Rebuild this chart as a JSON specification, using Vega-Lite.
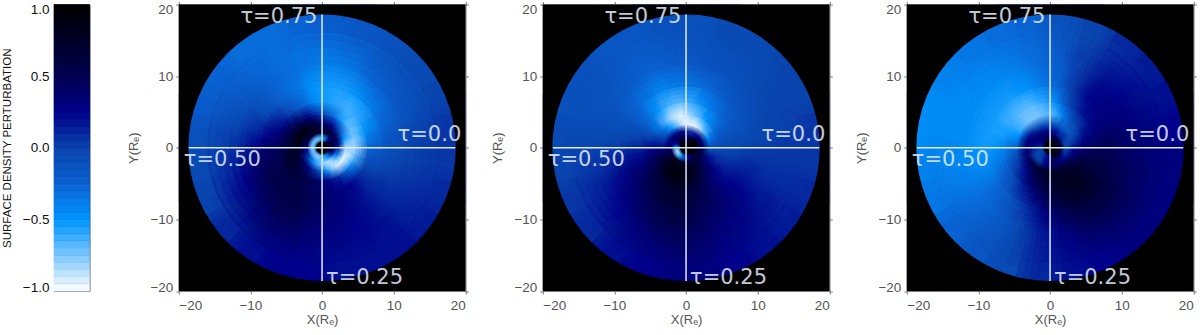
{"$schema":"https://vega.github.io/schema/vega-lite/v6.json","autosize":{"type":"pad"},"padding":{"left":0,"top":0.5,"right":0,"bottom":0},"background":"white","bounds":"flush","spacing":88.8,
"config":{"view":{"stroke":"#808080","fill":"black"},"arc":{"clip":true},"axis":{"grid":false,"labelFont":"Liberation Sans","titleFont":"Liberation Sans","labelFontSize":13.5,"titleFontSize":13,"titleFontWeight":"normal","labelColor":"#555555","titleColor":"#555555","domainColor":"#777777","tickColor":"#777777","tickSize":3}},
"datasets":{
"mask":[{"a":0,"b":360,"r":18.6,"s":30}],
"cb":[{"y":-1,"y2":-0.95,"m":-0.975},{"y":-0.95,"y2":-0.9,"m":-0.925},{"y":-0.9,"y2":-0.85,"m":-0.875},{"y":-0.85,"y2":-0.8,"m":-0.825},{"y":-0.8,"y2":-0.75,"m":-0.775},{"y":-0.75,"y2":-0.7,"m":-0.725},{"y":-0.7,"y2":-0.65,"m":-0.675},{"y":-0.65,"y2":-0.6,"m":-0.625},{"y":-0.6,"y2":-0.55,"m":-0.575},{"y":-0.55,"y2":-0.5,"m":-0.525},{"y":-0.5,"y2":-0.45,"m":-0.475},{"y":-0.45,"y2":-0.4,"m":-0.425},{"y":-0.4,"y2":-0.35,"m":-0.375},{"y":-0.35,"y2":-0.3,"m":-0.325},{"y":-0.3,"y2":-0.25,"m":-0.275},{"y":-0.25,"y2":-0.2,"m":-0.225},{"y":-0.2,"y2":-0.15,"m":-0.175},{"y":-0.15,"y2":-0.1,"m":-0.125},{"y":-0.1,"y2":-0.05,"m":-0.075},{"y":-0.05,"y2":0,"m":-0.025},{"y":0,"y2":0.05,"m":0.025},{"y":0.05,"y2":0.1,"m":0.075},{"y":0.1,"y2":0.15,"m":0.125},{"y":0.15,"y2":0.2,"m":0.175},{"y":0.2,"y2":0.25,"m":0.225},{"y":0.25,"y2":0.3,"m":0.275},{"y":0.3,"y2":0.35,"m":0.325},{"y":0.35,"y2":0.4,"m":0.375},{"y":0.4,"y2":0.45,"m":0.425},{"y":0.45,"y2":0.5,"m":0.475},{"y":0.5,"y2":0.55,"m":0.525},{"y":0.55,"y2":0.6,"m":0.575},{"y":0.6,"y2":0.65,"m":0.625},{"y":0.65,"y2":0.7,"m":0.675},{"y":0.7,"y2":0.75,"m":0.725},{"y":0.75,"y2":0.8,"m":0.775},{"y":0.8,"y2":0.85,"m":0.825},{"y":0.85,"y2":0.9,"m":0.875},{"y":0.9,"y2":0.95,"m":0.925},{"y":0.95,"y2":1,"m":0.975}],
"h":[{"x":-18.6,"x2":18.6,"y":0}],
"v":[{"x":0,"y":-18.6,"y2":18.6}],
"ann":[{"x":-11.4,"y":17.4,"t":"τ=0.75"},{"x":10.55,"y":0.93,"t":"τ=0.0"},{"x":-19.3,"y":-2.55,"t":"τ=0.50"},{"x":0.55,"y":-19.05,"t":"τ=0.25"}],
"p1":[
{"a":0,"b":15,"r":1,"s":1.8,"v":-0.5},{"a":15,"b":30,"r":1,"s":1.8,"v":-0.2},{"a":30,"b":45,"r":1,"s":1.8,"v":0.3},{"a":45,"b":60,"r":1,"s":1.8,"v":0.5},{"a":60,"b":75,"r":1,"s":1.8,"v":0.6},{"a":75,"b":90,"r":1,"s":1.8,"v":0.6},{"a":90,"b":105,"r":1,"s":1.8,"v":0.6},{"a":105,"b":120,"r":1,"s":1.8,"v":0.4},{"a":120,"b":135,"r":1,"s":1.8,"v":0.1},{"a":135,"b":150,"r":1,"s":1.8,"v":-0.3},{"a":150,"b":165,"r":1,"s":1.8,"v":-0.5},{"a":165,"b":180,"r":1,"s":1.8,"v":-0.6},{"a":180,"b":195,"r":1,"s":1.8,"v":-0.7},{"a":195,"b":210,"r":1,"s":1.8,"v":-0.75},{"a":210,"b":225,"r":1,"s":1.8,"v":-0.75},{"a":225,"b":240,"r":1,"s":1.8,"v":-0.7},{"a":240,"b":255,"r":1,"s":1.8,"v":-0.7},{"a":255,"b":270,"r":1,"s":1.8,"v":-0.7},{"a":270,"b":285,"r":1,"s":1.8,"v":-0.7},{"a":285,"b":300,"r":1,"s":1.8,"v":-0.7},{"a":300,"b":315,"r":1,"s":1.8,"v":-0.7},{"a":315,"b":330,"r":1,"s":1.8,"v":-0.7},{"a":330,"b":345,"r":1,"s":1.8,"v":-0.7},{"a":345,"b":360,"r":1,"s":1.8,"v":-0.6},
{"a":0,"b":15,"r":1.8,"s":2.8,"v":0.7},{"a":15,"b":30,"r":1.8,"s":2.8,"v":0.7},{"a":30,"b":45,"r":1.8,"s":2.8,"v":0.6},{"a":45,"b":60,"r":1.8,"s":2.8,"v":0.5},{"a":60,"b":75,"r":1.8,"s":2.8,"v":0.4},{"a":75,"b":90,"r":1.8,"s":2.8,"v":0.2},{"a":90,"b":105,"r":1.8,"s":2.8,"v":0},{"a":105,"b":120,"r":1.8,"s":2.8,"v":-0.3},{"a":120,"b":135,"r":1.8,"s":2.8,"v":-0.6},{"a":135,"b":150,"r":1.8,"s":2.8,"v":-0.8},{"a":150,"b":165,"r":1.8,"s":2.8,"v":-0.85},{"a":165,"b":180,"r":1.8,"s":2.8,"v":-0.8},{"a":180,"b":195,"r":1.8,"s":2.8,"v":-0.7},{"a":195,"b":210,"r":1.8,"s":2.8,"v":-0.6},{"a":210,"b":225,"r":1.8,"s":2.8,"v":-0.4},{"a":225,"b":240,"r":1.8,"s":2.8,"v":-0.1},{"a":240,"b":255,"r":1.8,"s":2.8,"v":0.1},{"a":255,"b":270,"r":1.8,"s":2.8,"v":0.3},{"a":270,"b":285,"r":1.8,"s":2.8,"v":0.4},{"a":285,"b":300,"r":1.8,"s":2.8,"v":0.5},{"a":300,"b":315,"r":1.8,"s":2.8,"v":0.6},{"a":315,"b":330,"r":1.8,"s":2.8,"v":0.65},{"a":330,"b":345,"r":1.8,"s":2.8,"v":0.7},{"a":345,"b":360,"r":1.8,"s":2.8,"v":0.7},
{"a":0,"b":15,"r":2.8,"s":4,"v":0.4},{"a":15,"b":30,"r":2.8,"s":4,"v":0.3},{"a":30,"b":45,"r":2.8,"s":4,"v":0.1},{"a":45,"b":60,"r":2.8,"s":4,"v":-0.2},{"a":60,"b":75,"r":2.8,"s":4,"v":-0.5},{"a":75,"b":90,"r":2.8,"s":4,"v":-0.75},{"a":90,"b":105,"r":2.8,"s":4,"v":-0.85},{"a":105,"b":120,"r":2.8,"s":4,"v":-0.95},{"a":120,"b":135,"r":2.8,"s":4,"v":-0.95},{"a":135,"b":150,"r":2.8,"s":4,"v":-0.9},{"a":150,"b":165,"r":2.8,"s":4,"v":-0.7},{"a":165,"b":180,"r":2.8,"s":4,"v":-0.4},{"a":180,"b":195,"r":2.8,"s":4,"v":-0.1},{"a":195,"b":210,"r":2.8,"s":4,"v":0.1},{"a":210,"b":225,"r":2.8,"s":4,"v":0.3},{"a":225,"b":240,"r":2.8,"s":4,"v":0.45},{"a":240,"b":255,"r":2.8,"s":4,"v":0.6},{"a":255,"b":270,"r":2.8,"s":4,"v":0.75},{"a":270,"b":285,"r":2.8,"s":4,"v":0.85},{"a":285,"b":300,"r":2.8,"s":4,"v":0.9},{"a":300,"b":315,"r":2.8,"s":4,"v":0.9},{"a":315,"b":330,"r":2.8,"s":4,"v":0.85},{"a":330,"b":345,"r":2.8,"s":4,"v":0.75},{"a":345,"b":360,"r":2.8,"s":4,"v":0.55},
{"a":0,"b":15,"r":4,"s":5.5,"v":-0.1},{"a":15,"b":30,"r":4,"s":5.5,"v":-0.3},{"a":30,"b":45,"r":4,"s":5.5,"v":-0.55},{"a":45,"b":60,"r":4,"s":5.5,"v":-0.7},{"a":60,"b":75,"r":4,"s":5.5,"v":-0.75},{"a":75,"b":90,"r":4,"s":5.5,"v":-0.8},{"a":90,"b":105,"r":4,"s":5.5,"v":-0.8},{"a":105,"b":120,"r":4,"s":5.5,"v":-0.65},{"a":120,"b":135,"r":4,"s":5.5,"v":-0.4},{"a":135,"b":150,"r":4,"s":5.5,"v":-0.1},{"a":150,"b":165,"r":4,"s":5.5,"v":0.15},{"a":165,"b":180,"r":4,"s":5.5,"v":0.3},{"a":180,"b":195,"r":4,"s":5.5,"v":0.4},{"a":195,"b":210,"r":4,"s":5.5,"v":0.5},{"a":210,"b":225,"r":4,"s":5.5,"v":0.6},{"a":225,"b":240,"r":4,"s":5.5,"v":0.7},{"a":240,"b":255,"r":4,"s":5.5,"v":0.75},{"a":255,"b":270,"r":4,"s":5.5,"v":0.7},{"a":270,"b":285,"r":4,"s":5.5,"v":0.65},{"a":285,"b":300,"r":4,"s":5.5,"v":0.6},{"a":300,"b":315,"r":4,"s":5.5,"v":0.55},{"a":315,"b":330,"r":4,"s":5.5,"v":0.45},{"a":330,"b":345,"r":4,"s":5.5,"v":0.3},{"a":345,"b":360,"r":4,"s":5.5,"v":0.1},
{"a":0,"b":15,"r":5.5,"s":7.5,"v":-0.55},{"a":15,"b":30,"r":5.5,"s":7.5,"v":-0.6},{"a":30,"b":45,"r":5.5,"s":7.5,"v":-0.65},{"a":45,"b":60,"r":5.5,"s":7.5,"v":-0.6},{"a":60,"b":75,"r":5.5,"s":7.5,"v":-0.5},{"a":75,"b":90,"r":5.5,"s":7.5,"v":-0.35},{"a":90,"b":105,"r":5.5,"s":7.5,"v":-0.2},{"a":105,"b":120,"r":5.5,"s":7.5,"v":-0.05},{"a":120,"b":135,"r":5.5,"s":7.5,"v":0.1},{"a":135,"b":150,"r":5.5,"s":7.5,"v":0.25},{"a":150,"b":165,"r":5.5,"s":7.5,"v":0.3},{"a":165,"b":180,"r":5.5,"s":7.5,"v":0.35},{"a":180,"b":195,"r":5.5,"s":7.5,"v":0.45},{"a":195,"b":210,"r":5.5,"s":7.5,"v":0.5},{"a":210,"b":225,"r":5.5,"s":7.5,"v":0.55},{"a":225,"b":240,"r":5.5,"s":7.5,"v":0.55},{"a":240,"b":255,"r":5.5,"s":7.5,"v":0.5},{"a":255,"b":270,"r":5.5,"s":7.5,"v":0.45},{"a":270,"b":285,"r":5.5,"s":7.5,"v":0.4},{"a":285,"b":300,"r":5.5,"s":7.5,"v":0.3},{"a":300,"b":315,"r":5.5,"s":7.5,"v":0.15},{"a":315,"b":330,"r":5.5,"s":7.5,"v":-0.05},{"a":330,"b":345,"r":5.5,"s":7.5,"v":-0.25},{"a":345,"b":360,"r":5.5,"s":7.5,"v":-0.45},
{"a":0,"b":15,"r":7.5,"s":10,"v":-0.55},{"a":15,"b":30,"r":7.5,"s":10,"v":-0.55},{"a":30,"b":45,"r":7.5,"s":10,"v":-0.5},{"a":45,"b":60,"r":7.5,"s":10,"v":-0.4},{"a":60,"b":75,"r":7.5,"s":10,"v":-0.3},{"a":75,"b":90,"r":7.5,"s":10,"v":-0.2},{"a":90,"b":105,"r":7.5,"s":10,"v":-0.1},{"a":105,"b":120,"r":7.5,"s":10,"v":0},{"a":120,"b":135,"r":7.5,"s":10,"v":0.1},{"a":135,"b":150,"r":7.5,"s":10,"v":0.2},{"a":150,"b":165,"r":7.5,"s":10,"v":0.3},{"a":165,"b":180,"r":7.5,"s":10,"v":0.35},{"a":180,"b":195,"r":7.5,"s":10,"v":0.45},{"a":195,"b":210,"r":7.5,"s":10,"v":0.55},{"a":210,"b":225,"r":7.5,"s":10,"v":0.55},{"a":225,"b":240,"r":7.5,"s":10,"v":0.55},{"a":240,"b":255,"r":7.5,"s":10,"v":0.5},{"a":255,"b":270,"r":7.5,"s":10,"v":0.4},{"a":270,"b":285,"r":7.5,"s":10,"v":0.25},{"a":285,"b":300,"r":7.5,"s":10,"v":0.1},{"a":300,"b":315,"r":7.5,"s":10,"v":-0.1},{"a":315,"b":330,"r":7.5,"s":10,"v":-0.25},{"a":330,"b":345,"r":7.5,"s":10,"v":-0.35},{"a":345,"b":360,"r":7.5,"s":10,"v":-0.5},
{"a":0,"b":15,"r":10,"s":14,"v":-0.4},{"a":15,"b":30,"r":10,"s":14,"v":-0.35},{"a":30,"b":45,"r":10,"s":14,"v":-0.25},{"a":45,"b":60,"r":10,"s":14,"v":-0.2},{"a":60,"b":75,"r":10,"s":14,"v":-0.15},{"a":75,"b":90,"r":10,"s":14,"v":-0.05},{"a":90,"b":105,"r":10,"s":14,"v":0},{"a":105,"b":120,"r":10,"s":14,"v":0.05},{"a":120,"b":135,"r":10,"s":14,"v":0.1},{"a":135,"b":150,"r":10,"s":14,"v":0.2},{"a":150,"b":165,"r":10,"s":14,"v":0.25},{"a":165,"b":180,"r":10,"s":14,"v":0.3},{"a":180,"b":195,"r":10,"s":14,"v":0.35},{"a":195,"b":210,"r":10,"s":14,"v":0.45},{"a":210,"b":225,"r":10,"s":14,"v":0.45},{"a":225,"b":240,"r":10,"s":14,"v":0.35},{"a":240,"b":255,"r":10,"s":14,"v":0.25},{"a":255,"b":270,"r":10,"s":14,"v":0.15},{"a":270,"b":285,"r":10,"s":14,"v":0.05},{"a":285,"b":300,"r":10,"s":14,"v":-0.05},{"a":300,"b":315,"r":10,"s":14,"v":-0.15},{"a":315,"b":330,"r":10,"s":14,"v":-0.25},{"a":330,"b":345,"r":10,"s":14,"v":-0.3},{"a":345,"b":360,"r":10,"s":14,"v":-0.35},
{"a":0,"b":15,"r":14,"s":18.6,"v":-0.2},{"a":15,"b":30,"r":14,"s":18.6,"v":-0.15},{"a":30,"b":45,"r":14,"s":18.6,"v":-0.1},{"a":45,"b":60,"r":14,"s":18.6,"v":-0.05},{"a":60,"b":75,"r":14,"s":18.6,"v":0},{"a":75,"b":90,"r":14,"s":18.6,"v":0.05},{"a":90,"b":105,"r":14,"s":18.6,"v":0.05},{"a":105,"b":120,"r":14,"s":18.6,"v":0.1},{"a":120,"b":135,"r":14,"s":18.6,"v":0.15},{"a":135,"b":150,"r":14,"s":18.6,"v":0.2},{"a":150,"b":165,"r":14,"s":18.6,"v":0.2},{"a":165,"b":180,"r":14,"s":18.6,"v":0.2},{"a":180,"b":195,"r":14,"s":18.6,"v":0.25},{"a":195,"b":210,"r":14,"s":18.6,"v":0.25},{"a":210,"b":225,"r":14,"s":18.6,"v":0.2},{"a":225,"b":240,"r":14,"s":18.6,"v":0.1},{"a":240,"b":255,"r":14,"s":18.6,"v":0},{"a":255,"b":270,"r":14,"s":18.6,"v":-0.05},{"a":270,"b":285,"r":14,"s":18.6,"v":-0.1},{"a":285,"b":300,"r":14,"s":18.6,"v":-0.2},{"a":300,"b":315,"r":14,"s":18.6,"v":-0.25},{"a":315,"b":330,"r":14,"s":18.6,"v":-0.3},{"a":330,"b":345,"r":14,"s":18.6,"v":-0.3},{"a":345,"b":360,"r":14,"s":18.6,"v":-0.25}],
"p2":[
{"a":0,"b":15,"r":1,"s":1.8,"v":0.4},{"a":15,"b":30,"r":1,"s":1.8,"v":0.6},{"a":30,"b":45,"r":1,"s":1.8,"v":0.8},{"a":45,"b":60,"r":1,"s":1.8,"v":0.9},{"a":60,"b":75,"r":1,"s":1.8,"v":0.9},{"a":75,"b":90,"r":1,"s":1.8,"v":0.9},{"a":90,"b":105,"r":1,"s":1.8,"v":0.8},{"a":105,"b":120,"r":1,"s":1.8,"v":0.8},{"a":120,"b":135,"r":1,"s":1.8,"v":0.7},{"a":135,"b":150,"r":1,"s":1.8,"v":0.6},{"a":150,"b":165,"r":1,"s":1.8,"v":0.4},{"a":165,"b":180,"r":1,"s":1.8,"v":0.2},{"a":180,"b":195,"r":1,"s":1.8,"v":0},{"a":195,"b":210,"r":1,"s":1.8,"v":-0.3},{"a":210,"b":225,"r":1,"s":1.8,"v":-0.6},{"a":225,"b":240,"r":1,"s":1.8,"v":-0.75},{"a":240,"b":255,"r":1,"s":1.8,"v":-0.8},{"a":255,"b":270,"r":1,"s":1.8,"v":-0.7},{"a":270,"b":285,"r":1,"s":1.8,"v":-0.3},{"a":285,"b":300,"r":1,"s":1.8,"v":0.2},{"a":300,"b":315,"r":1,"s":1.8,"v":0.5},{"a":315,"b":330,"r":1,"s":1.8,"v":0.6},{"a":330,"b":345,"r":1,"s":1.8,"v":0.6},{"a":345,"b":360,"r":1,"s":1.8,"v":0.5},
{"a":0,"b":15,"r":1.8,"s":2.8,"v":0.1},{"a":15,"b":30,"r":1.8,"s":2.8,"v":0.1},{"a":30,"b":45,"r":1.8,"s":2.8,"v":0.2},{"a":45,"b":60,"r":1.8,"s":2.8,"v":0.35},{"a":60,"b":75,"r":1.8,"s":2.8,"v":0.4},{"a":75,"b":90,"r":1.8,"s":2.8,"v":0.4},{"a":90,"b":105,"r":1.8,"s":2.8,"v":0.5},{"a":105,"b":120,"r":1.8,"s":2.8,"v":0.5},{"a":120,"b":135,"r":1.8,"s":2.8,"v":0.55},{"a":135,"b":150,"r":1.8,"s":2.8,"v":0.65},{"a":150,"b":165,"r":1.8,"s":2.8,"v":0.7},{"a":165,"b":180,"r":1.8,"s":2.8,"v":0.7},{"a":180,"b":195,"r":1.8,"s":2.8,"v":0.75},{"a":195,"b":210,"r":1.8,"s":2.8,"v":0.8},{"a":210,"b":225,"r":1.8,"s":2.8,"v":0.8},{"a":225,"b":240,"r":1.8,"s":2.8,"v":0.75},{"a":240,"b":255,"r":1.8,"s":2.8,"v":0.6},{"a":255,"b":270,"r":1.8,"s":2.8,"v":0.45},{"a":270,"b":285,"r":1.8,"s":2.8,"v":0.3},{"a":285,"b":300,"r":1.8,"s":2.8,"v":0.3},{"a":300,"b":315,"r":1.8,"s":2.8,"v":0.35},{"a":315,"b":330,"r":1.8,"s":2.8,"v":0.35},{"a":330,"b":345,"r":1.8,"s":2.8,"v":0.3},{"a":345,"b":360,"r":1.8,"s":2.8,"v":0.2},
{"a":0,"b":15,"r":2.8,"s":4,"v":-0.95},{"a":15,"b":30,"r":2.8,"s":4,"v":-0.95},{"a":30,"b":45,"r":2.8,"s":4,"v":-0.85},{"a":45,"b":60,"r":2.8,"s":4,"v":-0.65},{"a":60,"b":75,"r":2.8,"s":4,"v":-0.4},{"a":75,"b":90,"r":2.8,"s":4,"v":-0.2},{"a":90,"b":105,"r":2.8,"s":4,"v":0},{"a":105,"b":120,"r":2.8,"s":4,"v":0.2},{"a":120,"b":135,"r":2.8,"s":4,"v":0.4},{"a":135,"b":150,"r":2.8,"s":4,"v":0.55},{"a":150,"b":165,"r":2.8,"s":4,"v":0.75},{"a":165,"b":180,"r":2.8,"s":4,"v":0.85},{"a":180,"b":195,"r":2.8,"s":4,"v":0.9},{"a":195,"b":210,"r":2.8,"s":4,"v":0.9},{"a":210,"b":225,"r":2.8,"s":4,"v":0.9},{"a":225,"b":240,"r":2.8,"s":4,"v":0.8},{"a":240,"b":255,"r":2.8,"s":4,"v":0.6},{"a":255,"b":270,"r":2.8,"s":4,"v":0.4},{"a":270,"b":285,"r":2.8,"s":4,"v":0.15},{"a":285,"b":300,"r":2.8,"s":4,"v":0},{"a":300,"b":315,"r":2.8,"s":4,"v":-0.2},{"a":315,"b":330,"r":2.8,"s":4,"v":-0.45},{"a":330,"b":345,"r":2.8,"s":4,"v":-0.7},{"a":345,"b":360,"r":2.8,"s":4,"v":-0.9},
{"a":0,"b":15,"r":4,"s":5.5,"v":-0.8},{"a":15,"b":30,"r":4,"s":5.5,"v":-0.7},{"a":30,"b":45,"r":4,"s":5.5,"v":-0.5},{"a":45,"b":60,"r":4,"s":5.5,"v":-0.35},{"a":60,"b":75,"r":4,"s":5.5,"v":-0.2},{"a":75,"b":90,"r":4,"s":5.5,"v":-0.1},{"a":90,"b":105,"r":4,"s":5.5,"v":0},{"a":105,"b":120,"r":4,"s":5.5,"v":0.1},{"a":120,"b":135,"r":4,"s":5.5,"v":0.3},{"a":135,"b":150,"r":4,"s":5.5,"v":0.45},{"a":150,"b":165,"r":4,"s":5.5,"v":0.6},{"a":165,"b":180,"r":4,"s":5.5,"v":0.75},{"a":180,"b":195,"r":4,"s":5.5,"v":0.85},{"a":195,"b":210,"r":4,"s":5.5,"v":0.85},{"a":210,"b":225,"r":4,"s":5.5,"v":0.8},{"a":225,"b":240,"r":4,"s":5.5,"v":0.65},{"a":240,"b":255,"r":4,"s":5.5,"v":0.5},{"a":255,"b":270,"r":4,"s":5.5,"v":0.35},{"a":270,"b":285,"r":4,"s":5.5,"v":0.15},{"a":285,"b":300,"r":4,"s":5.5,"v":-0.1},{"a":300,"b":315,"r":4,"s":5.5,"v":-0.4},{"a":315,"b":330,"r":4,"s":5.5,"v":-0.7},{"a":330,"b":345,"r":4,"s":5.5,"v":-0.9},{"a":345,"b":360,"r":4,"s":5.5,"v":-0.95},
{"a":0,"b":15,"r":5.5,"s":7.5,"v":-0.6},{"a":15,"b":30,"r":5.5,"s":7.5,"v":-0.45},{"a":30,"b":45,"r":5.5,"s":7.5,"v":-0.35},{"a":45,"b":60,"r":5.5,"s":7.5,"v":-0.25},{"a":60,"b":75,"r":5.5,"s":7.5,"v":-0.15},{"a":75,"b":90,"r":5.5,"s":7.5,"v":-0.05},{"a":90,"b":105,"r":5.5,"s":7.5,"v":0},{"a":105,"b":120,"r":5.5,"s":7.5,"v":0.1},{"a":120,"b":135,"r":5.5,"s":7.5,"v":0.2},{"a":135,"b":150,"r":5.5,"s":7.5,"v":0.35},{"a":150,"b":165,"r":5.5,"s":7.5,"v":0.5},{"a":165,"b":180,"r":5.5,"s":7.5,"v":0.6},{"a":180,"b":195,"r":5.5,"s":7.5,"v":0.7},{"a":195,"b":210,"r":5.5,"s":7.5,"v":0.7},{"a":210,"b":225,"r":5.5,"s":7.5,"v":0.6},{"a":225,"b":240,"r":5.5,"s":7.5,"v":0.5},{"a":240,"b":255,"r":5.5,"s":7.5,"v":0.35},{"a":255,"b":270,"r":5.5,"s":7.5,"v":0.2},{"a":270,"b":285,"r":5.5,"s":7.5,"v":0.05},{"a":285,"b":300,"r":5.5,"s":7.5,"v":-0.1},{"a":300,"b":315,"r":5.5,"s":7.5,"v":-0.3},{"a":315,"b":330,"r":5.5,"s":7.5,"v":-0.5},{"a":330,"b":345,"r":5.5,"s":7.5,"v":-0.65},{"a":345,"b":360,"r":5.5,"s":7.5,"v":-0.7},
{"a":0,"b":15,"r":7.5,"s":10,"v":-0.35},{"a":15,"b":30,"r":7.5,"s":10,"v":-0.3},{"a":30,"b":45,"r":7.5,"s":10,"v":-0.2},{"a":45,"b":60,"r":7.5,"s":10,"v":-0.15},{"a":60,"b":75,"r":7.5,"s":10,"v":-0.1},{"a":75,"b":90,"r":7.5,"s":10,"v":-0.05},{"a":90,"b":105,"r":7.5,"s":10,"v":0.05},{"a":105,"b":120,"r":7.5,"s":10,"v":0.15},{"a":120,"b":135,"r":7.5,"s":10,"v":0.25},{"a":135,"b":150,"r":7.5,"s":10,"v":0.35},{"a":150,"b":165,"r":7.5,"s":10,"v":0.45},{"a":165,"b":180,"r":7.5,"s":10,"v":0.55},{"a":180,"b":195,"r":7.5,"s":10,"v":0.65},{"a":195,"b":210,"r":7.5,"s":10,"v":0.6},{"a":210,"b":225,"r":7.5,"s":10,"v":0.5},{"a":225,"b":240,"r":7.5,"s":10,"v":0.4},{"a":240,"b":255,"r":7.5,"s":10,"v":0.3},{"a":255,"b":270,"r":7.5,"s":10,"v":0.15},{"a":270,"b":285,"r":7.5,"s":10,"v":0},{"a":285,"b":300,"r":7.5,"s":10,"v":-0.1},{"a":300,"b":315,"r":7.5,"s":10,"v":-0.25},{"a":315,"b":330,"r":7.5,"s":10,"v":-0.35},{"a":330,"b":345,"r":7.5,"s":10,"v":-0.45},{"a":345,"b":360,"r":7.5,"s":10,"v":-0.4},
{"a":0,"b":15,"r":10,"s":14,"v":-0.15},{"a":15,"b":30,"r":10,"s":14,"v":-0.12},{"a":30,"b":45,"r":10,"s":14,"v":-0.1},{"a":45,"b":60,"r":10,"s":14,"v":-0.05},{"a":60,"b":75,"r":10,"s":14,"v":0},{"a":75,"b":90,"r":10,"s":14,"v":0},{"a":90,"b":105,"r":10,"s":14,"v":0.05},{"a":105,"b":120,"r":10,"s":14,"v":0.1},{"a":120,"b":135,"r":10,"s":14,"v":0.2},{"a":135,"b":150,"r":10,"s":14,"v":0.3},{"a":150,"b":165,"r":10,"s":14,"v":0.35},{"a":165,"b":180,"r":10,"s":14,"v":0.45},{"a":180,"b":195,"r":10,"s":14,"v":0.5},{"a":195,"b":210,"r":10,"s":14,"v":0.45},{"a":210,"b":225,"r":10,"s":14,"v":0.35},{"a":225,"b":240,"r":10,"s":14,"v":0.25},{"a":240,"b":255,"r":10,"s":14,"v":0.15},{"a":255,"b":270,"r":10,"s":14,"v":0.05},{"a":270,"b":285,"r":10,"s":14,"v":-0.05},{"a":285,"b":300,"r":10,"s":14,"v":-0.1},{"a":300,"b":315,"r":10,"s":14,"v":-0.15},{"a":315,"b":330,"r":10,"s":14,"v":-0.2},{"a":330,"b":345,"r":10,"s":14,"v":-0.25},{"a":345,"b":360,"r":10,"s":14,"v":-0.2},
{"a":0,"b":15,"r":14,"s":18.6,"v":-0.1},{"a":15,"b":30,"r":14,"s":18.6,"v":-0.05},{"a":30,"b":45,"r":14,"s":18.6,"v":-0.05},{"a":45,"b":60,"r":14,"s":18.6,"v":0},{"a":60,"b":75,"r":14,"s":18.6,"v":0},{"a":75,"b":90,"r":14,"s":18.6,"v":0.05},{"a":90,"b":105,"r":14,"s":18.6,"v":0.05},{"a":105,"b":120,"r":14,"s":18.6,"v":0.1},{"a":120,"b":135,"r":14,"s":18.6,"v":0.15},{"a":135,"b":150,"r":14,"s":18.6,"v":0.2},{"a":150,"b":165,"r":14,"s":18.6,"v":0.25},{"a":165,"b":180,"r":14,"s":18.6,"v":0.3},{"a":180,"b":195,"r":14,"s":18.6,"v":0.3},{"a":195,"b":210,"r":14,"s":18.6,"v":0.25},{"a":210,"b":225,"r":14,"s":18.6,"v":0.2},{"a":225,"b":240,"r":14,"s":18.6,"v":0.1},{"a":240,"b":255,"r":14,"s":18.6,"v":0.05},{"a":255,"b":270,"r":14,"s":18.6,"v":0},{"a":270,"b":285,"r":14,"s":18.6,"v":-0.05},{"a":285,"b":300,"r":14,"s":18.6,"v":-0.1},{"a":300,"b":315,"r":14,"s":18.6,"v":-0.1},{"a":315,"b":330,"r":14,"s":18.6,"v":-0.15},{"a":330,"b":345,"r":14,"s":18.6,"v":-0.15},{"a":345,"b":360,"r":14,"s":18.6,"v":-0.1}],
"p3":[
{"a":0,"b":15,"r":1,"s":1.8,"v":0.6},{"a":15,"b":30,"r":1,"s":1.8,"v":0.6},{"a":30,"b":45,"r":1,"s":1.8,"v":0.6},{"a":45,"b":60,"r":1,"s":1.8,"v":0.6},{"a":60,"b":75,"r":1,"s":1.8,"v":0.6},{"a":75,"b":90,"r":1,"s":1.8,"v":0.7},{"a":90,"b":105,"r":1,"s":1.8,"v":0.7},{"a":105,"b":120,"r":1,"s":1.8,"v":0.7},{"a":120,"b":135,"r":1,"s":1.8,"v":0.7},{"a":135,"b":150,"r":1,"s":1.8,"v":0.7},{"a":150,"b":165,"r":1,"s":1.8,"v":0.6},{"a":165,"b":180,"r":1,"s":1.8,"v":0.5},{"a":180,"b":195,"r":1,"s":1.8,"v":0.3},{"a":195,"b":210,"r":1,"s":1.8,"v":0.2},{"a":210,"b":225,"r":1,"s":1.8,"v":0.1},{"a":225,"b":240,"r":1,"s":1.8,"v":0},{"a":240,"b":255,"r":1,"s":1.8,"v":0},{"a":255,"b":270,"r":1,"s":1.8,"v":0},{"a":270,"b":285,"r":1,"s":1.8,"v":0.1},{"a":285,"b":300,"r":1,"s":1.8,"v":0.2},{"a":300,"b":315,"r":1,"s":1.8,"v":0.3},{"a":315,"b":330,"r":1,"s":1.8,"v":0.4},{"a":330,"b":345,"r":1,"s":1.8,"v":0.5},{"a":345,"b":360,"r":1,"s":1.8,"v":0.6},
{"a":0,"b":15,"r":1.8,"s":2.8,"v":0.2},{"a":15,"b":30,"r":1.8,"s":2.8,"v":0.2},{"a":30,"b":45,"r":1.8,"s":2.8,"v":0.1},{"a":45,"b":60,"r":1.8,"s":2.8,"v":0.1},{"a":60,"b":75,"r":1.8,"s":2.8,"v":0},{"a":75,"b":90,"r":1.8,"s":2.8,"v":0},{"a":90,"b":105,"r":1.8,"s":2.8,"v":0},{"a":105,"b":120,"r":1.8,"s":2.8,"v":0.1},{"a":120,"b":135,"r":1.8,"s":2.8,"v":0.2},{"a":135,"b":150,"r":1.8,"s":2.8,"v":0.3},{"a":150,"b":165,"r":1.8,"s":2.8,"v":0.4},{"a":165,"b":180,"r":1.8,"s":2.8,"v":0.4},{"a":180,"b":195,"r":1.8,"s":2.8,"v":0.3},{"a":195,"b":210,"r":1.8,"s":2.8,"v":0.2},{"a":210,"b":225,"r":1.8,"s":2.8,"v":0},{"a":225,"b":240,"r":1.8,"s":2.8,"v":0},{"a":240,"b":255,"r":1.8,"s":2.8,"v":0},{"a":255,"b":270,"r":1.8,"s":2.8,"v":0.1},{"a":270,"b":285,"r":1.8,"s":2.8,"v":0.2},{"a":285,"b":300,"r":1.8,"s":2.8,"v":0.3},{"a":300,"b":315,"r":1.8,"s":2.8,"v":0.35},{"a":315,"b":330,"r":1.8,"s":2.8,"v":0.35},{"a":330,"b":345,"r":1.8,"s":2.8,"v":0.3},{"a":345,"b":360,"r":1.8,"s":2.8,"v":0.25},
{"a":0,"b":15,"r":2.8,"s":4,"v":-0.1},{"a":15,"b":30,"r":2.8,"s":4,"v":-0.15},{"a":30,"b":45,"r":2.8,"s":4,"v":-0.2},{"a":45,"b":60,"r":2.8,"s":4,"v":-0.15},{"a":60,"b":75,"r":2.8,"s":4,"v":-0.05},{"a":75,"b":90,"r":2.8,"s":4,"v":0.1},{"a":90,"b":105,"r":2.8,"s":4,"v":0.25},{"a":105,"b":120,"r":2.8,"s":4,"v":0.4},{"a":120,"b":135,"r":2.8,"s":4,"v":0.55},{"a":135,"b":150,"r":2.8,"s":4,"v":0.65},{"a":150,"b":165,"r":2.8,"s":4,"v":0.7},{"a":165,"b":180,"r":2.8,"s":4,"v":0.75},{"a":180,"b":195,"r":2.8,"s":4,"v":0.75},{"a":195,"b":210,"r":2.8,"s":4,"v":0.7},{"a":210,"b":225,"r":2.8,"s":4,"v":0.6},{"a":225,"b":240,"r":2.8,"s":4,"v":0.5},{"a":240,"b":255,"r":2.8,"s":4,"v":0.4},{"a":255,"b":270,"r":2.8,"s":4,"v":0.35},{"a":270,"b":285,"r":2.8,"s":4,"v":0.35},{"a":285,"b":300,"r":2.8,"s":4,"v":0.3},{"a":300,"b":315,"r":2.8,"s":4,"v":0.15},{"a":315,"b":330,"r":2.8,"s":4,"v":0},{"a":330,"b":345,"r":2.8,"s":4,"v":-0.1},{"a":345,"b":360,"r":2.8,"s":4,"v":-0.1},
{"a":0,"b":15,"r":4,"s":5.5,"v":-0.65},{"a":15,"b":30,"r":4,"s":5.5,"v":-0.4},{"a":30,"b":45,"r":4,"s":5.5,"v":-0.15},{"a":45,"b":60,"r":4,"s":5.5,"v":0},{"a":60,"b":75,"r":4,"s":5.5,"v":0.15},{"a":75,"b":90,"r":4,"s":5.5,"v":0.3},{"a":90,"b":105,"r":4,"s":5.5,"v":0.45},{"a":105,"b":120,"r":4,"s":5.5,"v":0.6},{"a":120,"b":135,"r":4,"s":5.5,"v":0.7},{"a":135,"b":150,"r":4,"s":5.5,"v":0.8},{"a":150,"b":165,"r":4,"s":5.5,"v":0.8},{"a":165,"b":180,"r":4,"s":5.5,"v":0.75},{"a":180,"b":195,"r":4,"s":5.5,"v":0.65},{"a":195,"b":210,"r":4,"s":5.5,"v":0.55},{"a":210,"b":225,"r":4,"s":5.5,"v":0.4},{"a":225,"b":240,"r":4,"s":5.5,"v":0.2},{"a":240,"b":255,"r":4,"s":5.5,"v":0.05},{"a":255,"b":270,"r":4,"s":5.5,"v":-0.1},{"a":270,"b":285,"r":4,"s":5.5,"v":-0.3},{"a":285,"b":300,"r":4,"s":5.5,"v":-0.5},{"a":300,"b":315,"r":4,"s":5.5,"v":-0.65},{"a":315,"b":330,"r":4,"s":5.5,"v":-0.75},{"a":330,"b":345,"r":4,"s":5.5,"v":-0.75},{"a":345,"b":360,"r":4,"s":5.5,"v":-0.7},
{"a":0,"b":15,"r":5.5,"s":7.5,"v":-0.45},{"a":15,"b":30,"r":5.5,"s":7.5,"v":-0.1},{"a":30,"b":45,"r":5.5,"s":7.5,"v":0.1},{"a":45,"b":60,"r":5.5,"s":7.5,"v":0.2},{"a":60,"b":75,"r":5.5,"s":7.5,"v":0.3},{"a":75,"b":90,"r":5.5,"s":7.5,"v":0.4},{"a":90,"b":105,"r":5.5,"s":7.5,"v":0.5},{"a":105,"b":120,"r":5.5,"s":7.5,"v":0.6},{"a":120,"b":135,"r":5.5,"s":7.5,"v":0.7},{"a":135,"b":150,"r":5.5,"s":7.5,"v":0.8},{"a":150,"b":165,"r":5.5,"s":7.5,"v":0.75},{"a":165,"b":180,"r":5.5,"s":7.5,"v":0.7},{"a":180,"b":195,"r":5.5,"s":7.5,"v":0.5},{"a":195,"b":210,"r":5.5,"s":7.5,"v":0.35},{"a":210,"b":225,"r":5.5,"s":7.5,"v":0.15},{"a":225,"b":240,"r":5.5,"s":7.5,"v":-0.05},{"a":240,"b":255,"r":5.5,"s":7.5,"v":-0.2},{"a":255,"b":270,"r":5.5,"s":7.5,"v":-0.35},{"a":270,"b":285,"r":5.5,"s":7.5,"v":-0.45},{"a":285,"b":300,"r":5.5,"s":7.5,"v":-0.55},{"a":300,"b":315,"r":5.5,"s":7.5,"v":-0.65},{"a":315,"b":330,"r":5.5,"s":7.5,"v":-0.7},{"a":330,"b":345,"r":5.5,"s":7.5,"v":-0.7},{"a":345,"b":360,"r":5.5,"s":7.5,"v":-0.6},
{"a":0,"b":15,"r":7.5,"s":10,"v":-0.25},{"a":15,"b":30,"r":7.5,"s":10,"v":0.05},{"a":30,"b":45,"r":7.5,"s":10,"v":0.25},{"a":45,"b":60,"r":7.5,"s":10,"v":0.3},{"a":60,"b":75,"r":7.5,"s":10,"v":0.35},{"a":75,"b":90,"r":7.5,"s":10,"v":0.45},{"a":90,"b":105,"r":7.5,"s":10,"v":0.5},{"a":105,"b":120,"r":7.5,"s":10,"v":0.55},{"a":120,"b":135,"r":7.5,"s":10,"v":0.65},{"a":135,"b":150,"r":7.5,"s":10,"v":0.7},{"a":150,"b":165,"r":7.5,"s":10,"v":0.65},{"a":165,"b":180,"r":7.5,"s":10,"v":0.5},{"a":180,"b":195,"r":7.5,"s":10,"v":0.3},{"a":195,"b":210,"r":7.5,"s":10,"v":0.1},{"a":210,"b":225,"r":7.5,"s":10,"v":-0.1},{"a":225,"b":240,"r":7.5,"s":10,"v":-0.25},{"a":240,"b":255,"r":7.5,"s":10,"v":-0.4},{"a":255,"b":270,"r":7.5,"s":10,"v":-0.5},{"a":270,"b":285,"r":7.5,"s":10,"v":-0.55},{"a":285,"b":300,"r":7.5,"s":10,"v":-0.55},{"a":300,"b":315,"r":7.5,"s":10,"v":-0.55},{"a":315,"b":330,"r":7.5,"s":10,"v":-0.55},{"a":330,"b":345,"r":7.5,"s":10,"v":-0.5},{"a":345,"b":360,"r":7.5,"s":10,"v":-0.4},
{"a":0,"b":15,"r":10,"s":14,"v":-0.2},{"a":15,"b":30,"r":10,"s":14,"v":0.05},{"a":30,"b":45,"r":10,"s":14,"v":0.2},{"a":45,"b":60,"r":10,"s":14,"v":0.25},{"a":60,"b":75,"r":10,"s":14,"v":0.3},{"a":75,"b":90,"r":10,"s":14,"v":0.35},{"a":90,"b":105,"r":10,"s":14,"v":0.4},{"a":105,"b":120,"r":10,"s":14,"v":0.45},{"a":120,"b":135,"r":10,"s":14,"v":0.5},{"a":135,"b":150,"r":10,"s":14,"v":0.5},{"a":150,"b":165,"r":10,"s":14,"v":0.45},{"a":165,"b":180,"r":10,"s":14,"v":0.3},{"a":180,"b":195,"r":10,"s":14,"v":0.15},{"a":195,"b":210,"r":10,"s":14,"v":-0.05},{"a":210,"b":225,"r":10,"s":14,"v":-0.2},{"a":225,"b":240,"r":10,"s":14,"v":-0.3},{"a":240,"b":255,"r":10,"s":14,"v":-0.4},{"a":255,"b":270,"r":10,"s":14,"v":-0.45},{"a":270,"b":285,"r":10,"s":14,"v":-0.45},{"a":285,"b":300,"r":10,"s":14,"v":-0.45},{"a":300,"b":315,"r":10,"s":14,"v":-0.45},{"a":315,"b":330,"r":10,"s":14,"v":-0.45},{"a":330,"b":345,"r":10,"s":14,"v":-0.4},{"a":345,"b":360,"r":10,"s":14,"v":-0.3},
{"a":0,"b":15,"r":14,"s":18.6,"v":-0.1},{"a":15,"b":30,"r":14,"s":18.6,"v":0},{"a":30,"b":45,"r":14,"s":18.6,"v":0.1},{"a":45,"b":60,"r":14,"s":18.6,"v":0.15},{"a":60,"b":75,"r":14,"s":18.6,"v":0.2},{"a":75,"b":90,"r":14,"s":18.6,"v":0.25},{"a":90,"b":105,"r":14,"s":18.6,"v":0.3},{"a":105,"b":120,"r":14,"s":18.6,"v":0.3},{"a":120,"b":135,"r":14,"s":18.6,"v":0.3},{"a":135,"b":150,"r":14,"s":18.6,"v":0.3},{"a":150,"b":165,"r":14,"s":18.6,"v":0.25},{"a":165,"b":180,"r":14,"s":18.6,"v":0.2},{"a":180,"b":195,"r":14,"s":18.6,"v":0.1},{"a":195,"b":210,"r":14,"s":18.6,"v":-0.05},{"a":210,"b":225,"r":14,"s":18.6,"v":-0.15},{"a":225,"b":240,"r":14,"s":18.6,"v":-0.25},{"a":240,"b":255,"r":14,"s":18.6,"v":-0.35},{"a":255,"b":270,"r":14,"s":18.6,"v":-0.4},{"a":270,"b":285,"r":14,"s":18.6,"v":-0.45},{"a":285,"b":300,"r":14,"s":18.6,"v":-0.45},{"a":300,"b":315,"r":14,"s":18.6,"v":-0.4},{"a":315,"b":330,"r":14,"s":18.6,"v":-0.35},{"a":330,"b":345,"r":14,"s":18.6,"v":-0.3},{"a":345,"b":360,"r":14,"s":18.6,"v":-0.25}]
},
"hconcat":[
{"width":35.6,"height":286.5,"data":{"name":"cb"},"mark":{"type":"rect","strokeWidth":0.7},"encoding":{
"y":{"field":"y","type":"quantitative","scale":{"domain":[-1,1],"nice":false},"axis":{"title":"SURFACE DENSITY PERTURBATION","values":[-1,-0.5,0,0.5,1],"format":".1f","labelColor":"#111111","titleColor":"#111111","titleFontSize":11.5,"titlePadding":10,"tickSize":0,"labelPadding":5,"domain":false,"labelOffset":{"condition":[{"test":"datum.value==1","value":4.5},{"test":"datum.value==-1","value":-3.5}],"value":0}}},
"y2":{"field":"y2"},
"color":{"field":"m","type":"quantitative","legend":null,"scale":{"domain":[-1,-0.75,-0.5,-0.25,0,0.25,0.5,1],"range":["#ffffff","#7cc6ff","#0096ff","#0a62d2","#0a44ae","#00008a","#000050","#000000"],"interpolate":"rgb"}},
"stroke":{"field":"m","type":"quantitative","legend":null,"scale":{"domain":[-1,-0.75,-0.5,-0.25,0,0.25,0.5,1],"range":["#ffffff","#7cc6ff","#0096ff","#0a62d2","#0a44ae","#00008a","#000050","#000000"],"interpolate":"rgb"}}}},
{"bounds":"flush","spacing":77,"hconcat":[
{"width":286.5,"height":286.5,"resolve":{"axis":{"x":"independent","y":"independent"},"scale":{"theta":"independent","radius":"independent"}},"layer":[
{"data":{"name":"p1"},"mark":{"type":"arc","strokeWidth":0.7,"clip":true},"encoding":{"theta":{"field":"a","type":"quantitative","scale":{"domain":[0,360],"range":[0,6.28319]}},"theta2":{"field":"b"},"radius":{"field":"r","type":"quantitative","scale":{"type":"linear","domain":[0,20],"range":[0,164.7]}},"radius2":{"field":"s"},"color":{"field":"v","type":"quantitative","legend":null,"scale":{"domain":[-1,-0.75,-0.5,-0.25,0,0.25,0.5,1],"range":["#ffffff","#7cc6ff","#0096ff","#0a62d2","#0a44ae","#00008a","#000050","#000000"],"interpolate":"rgb"}},"stroke":{"field":"v","type":"quantitative","legend":null,"scale":{"domain":[-1,-0.75,-0.5,-0.25,0,0.25,0.5,1],"range":["#ffffff","#7cc6ff","#0096ff","#0a62d2","#0a44ae","#00008a","#000050","#000000"],"interpolate":"rgb"}}}},
{"data":{"name":"p1"},"mark":{"type":"arc","opacity":0.5,"clip":true},"encoding":{"theta":{"field":"a","type":"quantitative","scale":{"domain":[0,360],"range":[0.0524,6.3356]}},"theta2":{"field":"b"},"radius":{"field":"r","type":"quantitative","scale":{"type":"linear","domain":[0,20],"range":[0,121.8]}},"radius2":{"field":"s"},"color":{"field":"v","type":"quantitative","legend":null,"scale":{"domain":[-1,-0.75,-0.5,-0.25,0,0.25,0.5,1],"range":["#ffffff","#7cc6ff","#0096ff","#0a62d2","#0a44ae","#00008a","#000050","#000000"],"interpolate":"rgb"}}}},
{"data":{"name":"p1"},"mark":{"type":"arc","opacity":0.333,"clip":true},"encoding":{"theta":{"field":"a","type":"quantitative","scale":{"domain":[0,360],"range":[-0.0524,6.2308]}},"theta2":{"field":"b"},"radius":{"field":"r","type":"quantitative","scale":{"type":"linear","domain":[0,20],"range":[0,154]}},"radius2":{"field":"s"},"color":{"field":"v","type":"quantitative","legend":null,"scale":{"domain":[-1,-0.75,-0.5,-0.25,0,0.25,0.5,1],"range":["#ffffff","#7cc6ff","#0096ff","#0a62d2","#0a44ae","#00008a","#000050","#000000"],"interpolate":"rgb"}}}},
{"data":{"name":"p1"},"mark":{"type":"arc","opacity":0.25,"clip":true},"encoding":{"theta":{"field":"a","type":"quantitative","scale":{"domain":[0,360],"range":[0.1047,6.3879]}},"theta2":{"field":"b"},"radius":{"field":"r","type":"quantitative","scale":{"type":"linear","domain":[0,20],"range":[0,132.5]}},"radius2":{"field":"s"},"color":{"field":"v","type":"quantitative","legend":null,"scale":{"domain":[-1,-0.75,-0.5,-0.25,0,0.25,0.5,1],"range":["#ffffff","#7cc6ff","#0096ff","#0a62d2","#0a44ae","#00008a","#000050","#000000"],"interpolate":"rgb"}}}},
{"data":{"name":"p1"},"mark":{"type":"arc","opacity":0.2,"clip":true},"encoding":{"theta":{"field":"a","type":"quantitative","scale":{"domain":[0,360],"range":[-0.1047,6.1785]}},"theta2":{"field":"b"},"radius":{"field":"r","type":"quantitative","scale":{"type":"linear","domain":[0,20],"range":[0,143.25]}},"radius2":{"field":"s"},"color":{"field":"v","type":"quantitative","legend":null,"scale":{"domain":[-1,-0.75,-0.5,-0.25,0,0.25,0.5,1],"range":["#ffffff","#7cc6ff","#0096ff","#0a62d2","#0a44ae","#00008a","#000050","#000000"],"interpolate":"rgb"}}}},
{"data":{"name":"mask"},"mark":{"type":"arc","fill":"black","clip":true},"encoding":{"theta":{"field":"a","type":"quantitative","scale":{"domain":[0,360],"range":[0,6.28319]}},"theta2":{"field":"b"},"radius":{"field":"r","type":"quantitative","scale":{"type":"linear","domain":[0,20],"range":[0,143.25]}},"radius2":{"field":"s"}}},
{"data":{"name":"h"},"mark":{"type":"rule","color":"#e4ecfa","strokeWidth":1.5},"encoding":{"x":{"field":"x","type":"quantitative","scale":{"domain":[-20,20],"nice":false},"axis":{"title":"X(Rₑ)","values":[-20,-10,0,10,20],"titlePadding":2,"labelPadding":4}},"x2":{"field":"x2"},"y":{"field":"y","type":"quantitative","scale":{"domain":[-20,20],"nice":false},"axis":{"title":"Y(Rₑ)","values":[-20,-10,0,10,20],"titlePadding":9,"labelPadding":3,"labelOffset":{"condition":[{"test":"datum.value==20","value":4.5},{"test":"datum.value==-20","value":-3.5}],"value":0}}}}},
{"data":{"name":"v"},"mark":{"type":"rule","color":"#e4ecfa","strokeWidth":1.5},"encoding":{"x":{"field":"x","type":"quantitative","scale":{"domain":[-20,20],"nice":false},"axis":{"orient":"top","title":null,"labels":false,"values":[-20,-10,0,10,20]}},"y":{"field":"y","type":"quantitative","scale":{"domain":[-20,20],"nice":false},"axis":{"orient":"right","title":null,"labels":false,"values":[-20,-10,0,10,20]}},"y2":{"field":"y2"}}},
{"data":{"name":"ann"},"mark":{"type":"text","align":"left","baseline":"alphabetic","font":"DejaVu Sans","fontSize":21,"color":"#e4ecfa","opacity":0.85},"encoding":{"x":{"field":"x","type":"quantitative","scale":{"domain":[-20,20],"nice":false},"axis":null},"y":{"field":"y","type":"quantitative","scale":{"domain":[-20,20],"nice":false},"axis":null},"text":{"field":"t"}}}
]},
{"width":286.5,"height":286.5,"resolve":{"axis":{"x":"independent","y":"independent"},"scale":{"theta":"independent","radius":"independent"}},"layer":[
{"data":{"name":"p2"},"mark":{"type":"arc","strokeWidth":0.7,"clip":true},"encoding":{"theta":{"field":"a","type":"quantitative","scale":{"domain":[0,360],"range":[0,6.28319]}},"theta2":{"field":"b"},"radius":{"field":"r","type":"quantitative","scale":{"type":"linear","domain":[0,20],"range":[0,164.7]}},"radius2":{"field":"s"},"color":{"field":"v","type":"quantitative","legend":null,"scale":{"domain":[-1,-0.75,-0.5,-0.25,0,0.25,0.5,1],"range":["#ffffff","#7cc6ff","#0096ff","#0a62d2","#0a44ae","#00008a","#000050","#000000"],"interpolate":"rgb"}},"stroke":{"field":"v","type":"quantitative","legend":null,"scale":{"domain":[-1,-0.75,-0.5,-0.25,0,0.25,0.5,1],"range":["#ffffff","#7cc6ff","#0096ff","#0a62d2","#0a44ae","#00008a","#000050","#000000"],"interpolate":"rgb"}}}},
{"data":{"name":"p2"},"mark":{"type":"arc","opacity":0.5,"clip":true},"encoding":{"theta":{"field":"a","type":"quantitative","scale":{"domain":[0,360],"range":[0.0524,6.3356]}},"theta2":{"field":"b"},"radius":{"field":"r","type":"quantitative","scale":{"type":"linear","domain":[0,20],"range":[0,121.8]}},"radius2":{"field":"s"},"color":{"field":"v","type":"quantitative","legend":null,"scale":{"domain":[-1,-0.75,-0.5,-0.25,0,0.25,0.5,1],"range":["#ffffff","#7cc6ff","#0096ff","#0a62d2","#0a44ae","#00008a","#000050","#000000"],"interpolate":"rgb"}}}},
{"data":{"name":"p2"},"mark":{"type":"arc","opacity":0.333,"clip":true},"encoding":{"theta":{"field":"a","type":"quantitative","scale":{"domain":[0,360],"range":[-0.0524,6.2308]}},"theta2":{"field":"b"},"radius":{"field":"r","type":"quantitative","scale":{"type":"linear","domain":[0,20],"range":[0,154]}},"radius2":{"field":"s"},"color":{"field":"v","type":"quantitative","legend":null,"scale":{"domain":[-1,-0.75,-0.5,-0.25,0,0.25,0.5,1],"range":["#ffffff","#7cc6ff","#0096ff","#0a62d2","#0a44ae","#00008a","#000050","#000000"],"interpolate":"rgb"}}}},
{"data":{"name":"p2"},"mark":{"type":"arc","opacity":0.25,"clip":true},"encoding":{"theta":{"field":"a","type":"quantitative","scale":{"domain":[0,360],"range":[0.1047,6.3879]}},"theta2":{"field":"b"},"radius":{"field":"r","type":"quantitative","scale":{"type":"linear","domain":[0,20],"range":[0,132.5]}},"radius2":{"field":"s"},"color":{"field":"v","type":"quantitative","legend":null,"scale":{"domain":[-1,-0.75,-0.5,-0.25,0,0.25,0.5,1],"range":["#ffffff","#7cc6ff","#0096ff","#0a62d2","#0a44ae","#00008a","#000050","#000000"],"interpolate":"rgb"}}}},
{"data":{"name":"p2"},"mark":{"type":"arc","opacity":0.2,"clip":true},"encoding":{"theta":{"field":"a","type":"quantitative","scale":{"domain":[0,360],"range":[-0.1047,6.1785]}},"theta2":{"field":"b"},"radius":{"field":"r","type":"quantitative","scale":{"type":"linear","domain":[0,20],"range":[0,143.25]}},"radius2":{"field":"s"},"color":{"field":"v","type":"quantitative","legend":null,"scale":{"domain":[-1,-0.75,-0.5,-0.25,0,0.25,0.5,1],"range":["#ffffff","#7cc6ff","#0096ff","#0a62d2","#0a44ae","#00008a","#000050","#000000"],"interpolate":"rgb"}}}},
{"data":{"name":"mask"},"mark":{"type":"arc","fill":"black","clip":true},"encoding":{"theta":{"field":"a","type":"quantitative","scale":{"domain":[0,360],"range":[0,6.28319]}},"theta2":{"field":"b"},"radius":{"field":"r","type":"quantitative","scale":{"type":"linear","domain":[0,20],"range":[0,143.25]}},"radius2":{"field":"s"}}},
{"data":{"name":"h"},"mark":{"type":"rule","color":"#e4ecfa","strokeWidth":1.5},"encoding":{"x":{"field":"x","type":"quantitative","scale":{"domain":[-20,20],"nice":false},"axis":{"title":"X(Rₑ)","values":[-20,-10,0,10,20],"titlePadding":2,"labelPadding":4}},"x2":{"field":"x2"},"y":{"field":"y","type":"quantitative","scale":{"domain":[-20,20],"nice":false},"axis":{"title":"Y(Rₑ)","values":[-20,-10,0,10,20],"titlePadding":9,"labelPadding":3,"labelOffset":{"condition":[{"test":"datum.value==20","value":4.5},{"test":"datum.value==-20","value":-3.5}],"value":0}}}}},
{"data":{"name":"v"},"mark":{"type":"rule","color":"#e4ecfa","strokeWidth":1.5},"encoding":{"x":{"field":"x","type":"quantitative","scale":{"domain":[-20,20],"nice":false},"axis":{"orient":"top","title":null,"labels":false,"values":[-20,-10,0,10,20]}},"y":{"field":"y","type":"quantitative","scale":{"domain":[-20,20],"nice":false},"axis":{"orient":"right","title":null,"labels":false,"values":[-20,-10,0,10,20]}},"y2":{"field":"y2"}}},
{"data":{"name":"ann"},"mark":{"type":"text","align":"left","baseline":"alphabetic","font":"DejaVu Sans","fontSize":21,"color":"#e4ecfa","opacity":0.85},"encoding":{"x":{"field":"x","type":"quantitative","scale":{"domain":[-20,20],"nice":false},"axis":null},"y":{"field":"y","type":"quantitative","scale":{"domain":[-20,20],"nice":false},"axis":null},"text":{"field":"t"}}}
]},
{"width":286.5,"height":286.5,"resolve":{"axis":{"x":"independent","y":"independent"},"scale":{"theta":"independent","radius":"independent"}},"layer":[
{"data":{"name":"p3"},"mark":{"type":"arc","strokeWidth":0.7,"clip":true},"encoding":{"theta":{"field":"a","type":"quantitative","scale":{"domain":[0,360],"range":[0,6.28319]}},"theta2":{"field":"b"},"radius":{"field":"r","type":"quantitative","scale":{"type":"linear","domain":[0,20],"range":[0,164.7]}},"radius2":{"field":"s"},"color":{"field":"v","type":"quantitative","legend":null,"scale":{"domain":[-1,-0.75,-0.5,-0.25,0,0.25,0.5,1],"range":["#ffffff","#7cc6ff","#0096ff","#0a62d2","#0a44ae","#00008a","#000050","#000000"],"interpolate":"rgb"}},"stroke":{"field":"v","type":"quantitative","legend":null,"scale":{"domain":[-1,-0.75,-0.5,-0.25,0,0.25,0.5,1],"range":["#ffffff","#7cc6ff","#0096ff","#0a62d2","#0a44ae","#00008a","#000050","#000000"],"interpolate":"rgb"}}}},
{"data":{"name":"p3"},"mark":{"type":"arc","opacity":0.5,"clip":true},"encoding":{"theta":{"field":"a","type":"quantitative","scale":{"domain":[0,360],"range":[0.0524,6.3356]}},"theta2":{"field":"b"},"radius":{"field":"r","type":"quantitative","scale":{"type":"linear","domain":[0,20],"range":[0,121.8]}},"radius2":{"field":"s"},"color":{"field":"v","type":"quantitative","legend":null,"scale":{"domain":[-1,-0.75,-0.5,-0.25,0,0.25,0.5,1],"range":["#ffffff","#7cc6ff","#0096ff","#0a62d2","#0a44ae","#00008a","#000050","#000000"],"interpolate":"rgb"}}}},
{"data":{"name":"p3"},"mark":{"type":"arc","opacity":0.333,"clip":true},"encoding":{"theta":{"field":"a","type":"quantitative","scale":{"domain":[0,360],"range":[-0.0524,6.2308]}},"theta2":{"field":"b"},"radius":{"field":"r","type":"quantitative","scale":{"type":"linear","domain":[0,20],"range":[0,154]}},"radius2":{"field":"s"},"color":{"field":"v","type":"quantitative","legend":null,"scale":{"domain":[-1,-0.75,-0.5,-0.25,0,0.25,0.5,1],"range":["#ffffff","#7cc6ff","#0096ff","#0a62d2","#0a44ae","#00008a","#000050","#000000"],"interpolate":"rgb"}}}},
{"data":{"name":"p3"},"mark":{"type":"arc","opacity":0.25,"clip":true},"encoding":{"theta":{"field":"a","type":"quantitative","scale":{"domain":[0,360],"range":[0.1047,6.3879]}},"theta2":{"field":"b"},"radius":{"field":"r","type":"quantitative","scale":{"type":"linear","domain":[0,20],"range":[0,132.5]}},"radius2":{"field":"s"},"color":{"field":"v","type":"quantitative","legend":null,"scale":{"domain":[-1,-0.75,-0.5,-0.25,0,0.25,0.5,1],"range":["#ffffff","#7cc6ff","#0096ff","#0a62d2","#0a44ae","#00008a","#000050","#000000"],"interpolate":"rgb"}}}},
{"data":{"name":"p3"},"mark":{"type":"arc","opacity":0.2,"clip":true},"encoding":{"theta":{"field":"a","type":"quantitative","scale":{"domain":[0,360],"range":[-0.1047,6.1785]}},"theta2":{"field":"b"},"radius":{"field":"r","type":"quantitative","scale":{"type":"linear","domain":[0,20],"range":[0,143.25]}},"radius2":{"field":"s"},"color":{"field":"v","type":"quantitative","legend":null,"scale":{"domain":[-1,-0.75,-0.5,-0.25,0,0.25,0.5,1],"range":["#ffffff","#7cc6ff","#0096ff","#0a62d2","#0a44ae","#00008a","#000050","#000000"],"interpolate":"rgb"}}}},
{"data":{"name":"mask"},"mark":{"type":"arc","fill":"black","clip":true},"encoding":{"theta":{"field":"a","type":"quantitative","scale":{"domain":[0,360],"range":[0,6.28319]}},"theta2":{"field":"b"},"radius":{"field":"r","type":"quantitative","scale":{"type":"linear","domain":[0,20],"range":[0,143.25]}},"radius2":{"field":"s"}}},
{"data":{"name":"h"},"mark":{"type":"rule","color":"#e4ecfa","strokeWidth":1.5},"encoding":{"x":{"field":"x","type":"quantitative","scale":{"domain":[-20,20],"nice":false},"axis":{"title":"X(Rₑ)","values":[-20,-10,0,10,20],"titlePadding":2,"labelPadding":4}},"x2":{"field":"x2"},"y":{"field":"y","type":"quantitative","scale":{"domain":[-20,20],"nice":false},"axis":{"title":"Y(Rₑ)","values":[-20,-10,0,10,20],"titlePadding":9,"labelPadding":3,"labelOffset":{"condition":[{"test":"datum.value==20","value":4.5},{"test":"datum.value==-20","value":-3.5}],"value":0}}}}},
{"data":{"name":"v"},"mark":{"type":"rule","color":"#e4ecfa","strokeWidth":1.5},"encoding":{"x":{"field":"x","type":"quantitative","scale":{"domain":[-20,20],"nice":false},"axis":{"orient":"top","title":null,"labels":false,"values":[-20,-10,0,10,20]}},"y":{"field":"y","type":"quantitative","scale":{"domain":[-20,20],"nice":false},"axis":{"orient":"right","title":null,"labels":false,"values":[-20,-10,0,10,20]}},"y2":{"field":"y2"}}},
{"data":{"name":"ann"},"mark":{"type":"text","align":"left","baseline":"alphabetic","font":"DejaVu Sans","fontSize":21,"color":"#e4ecfa","opacity":0.85},"encoding":{"x":{"field":"x","type":"quantitative","scale":{"domain":[-20,20],"nice":false},"axis":null},"y":{"field":"y","type":"quantitative","scale":{"domain":[-20,20],"nice":false},"axis":null},"text":{"field":"t"}}}
]}
]}
]}
